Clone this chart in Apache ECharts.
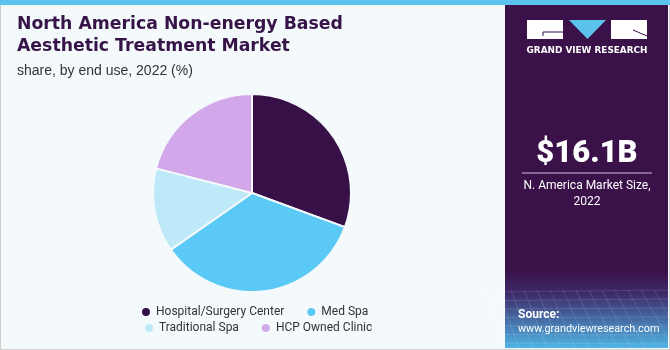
<!DOCTYPE html>
<html><head><meta charset="utf-8">
<script src="https://cdn.jsdelivr.net/npm/echarts@6/dist/echarts.min.js"></script>
<style>html,body{margin:0;padding:0;background:#f4f9fc}#c{width:670px;height:350px}</style>
</head><body><div id="c"></div>
<script>
const categories = ['Hospital/Surgery Center', 'Med Spa', 'Traditional Spa', 'HCP Owned Clinic'];
const shares = [30.6, 34.7, 13.7, 21.0];
const colors = ['#381048', '#5bc9f5', '#bde9f8', '#d3a8ea'];
const titleLines = ['North America Non-energy Based', 'Aesthetic Treatment Market'];
const subtitle = 'share, by end use, 2022 (%)';
const marketSize = '$16.1B';
const marketLabel = ['N. America Market Size,', '2022'];

const chart = echarts.init(document.getElementById('c'), null, {renderer: 'canvas'});
const data = categories.map((n, i) => ({name: n, value: shares[i], itemStyle: {color: colors[i]}}));

const mesh = [];
for (let i = 0; i < 14; i++) {
  mesh.push({type: 'line', shape: {x1: 505 + i * 13 - 20, y1: 290, x2: 505 + i * 14, y2: 348}, style: {stroke: 'rgba(255,255,255,0.12)', lineWidth: 1}, z: 3});
}
for (let j = 0; j < 7; j++) {
  mesh.push({type: 'line', shape: {x1: 505, y1: 292 + j * 8.5, x2: 668, y2: 290 + j * 9}, style: {stroke: 'rgba(255,255,255,0.12)', lineWidth: 1}, z: 3});
}
const legendText = {fontFamily: 'Roboto', fontSize: 12, color: '#333'};

chart.setOption({
  backgroundColor: '#f4f9fc',
  animation: false,
  legend: [{
    data: categories.slice(0, 2), top: 306, left: 140, itemGap: 21, padding: 0,
    icon: 'circle', itemWidth: 10, itemHeight: 10, textStyle: legendText
  }, {
    data: categories.slice(2), top: 322, left: 143, itemGap: 21, padding: 0,
    icon: 'circle', itemWidth: 10, itemHeight: 10, textStyle: legendText
  }],
  series: [{
    type: 'pie', center: [252, 193], radius: 99, startAngle: 90, clockwise: true,
    label: {show: false}, labelLine: {show: false},
    itemStyle: {borderColor: '#f4f9fc', borderWidth: 2},
    data: data
  }],
  graphic: [
    {type: 'rect', shape: {x: 0, y: 0, width: 670, height: 350}, style: {fill: 'none', stroke: '#cfcfcf', lineWidth: 2}, z: 1},
    {type: 'rect', shape: {x: 0, y: 0, width: 670, height: 5}, style: {fill: '#5bc3ee'}, z: 5},
    {type: 'rect', shape: {x: 505, y: 5, width: 163, height: 343}, style: {fill: '#3a1149'}, z: 2},
    {type: 'rect', shape: {x: 505, y: 270, width: 163, height: 78}, style: {fill: new echarts.graphic.LinearGradient(0, 0, 0, 1, [{offset: 0, color: '#3a1149'}, {offset: 0.3, color: '#3d2a6a'}, {offset: 1, color: '#4fb3e4'}])}, z: 2},
    ...mesh,
    {type: 'text', left: 17, top: 14, style: {text: titleLines.join('\n'), fontFamily: 'DejaVu Sans', fontWeight: 'bold', fontSize: 17.3, lineHeight: 22, fill: '#361447'}, z: 5},
    {type: 'text', left: 17, top: 64, style: {text: subtitle, fontFamily: 'Liberation Sans', fontSize: 14, fill: '#333'}, z: 5},
    {type: 'rect', shape: {x: 527, y: 20, width: 36, height: 19}, style: {fill: '#fff'}, z: 5},
    {type: 'polygon', shape: {points: [[569, 20], [606, 20], [587.5, 39]]}, style: {fill: '#5bc3ee'}, z: 5},
    {type: 'rect', shape: {x: 611, y: 20, width: 36, height: 19}, style: {fill: '#fff'}, z: 5},
    {type: 'line', shape: {x1: 543, y1: 32, x2: 563, y2: 32}, style: {stroke: '#3a1149', lineWidth: 1}, z: 6},
    {type: 'line', shape: {x1: 543, y1: 32, x2: 543, y2: 36}, style: {stroke: '#3a1149', lineWidth: 1}, z: 6},
    {type: 'line', shape: {x1: 633, y1: 30, x2: 647, y2: 36}, style: {stroke: '#3a1149', lineWidth: 1}, z: 6},
    {type: 'text', x: 587, y: 51, style: {text: 'GRAND VIEW RESEARCH', align: 'center', verticalAlign: 'middle', fontFamily: 'DejaVu Sans', fontWeight: 'bold', fontSize: 8.9, fill: '#fff'}, z: 5},
    {type: 'text', x: 587, y: 154, style: {text: marketSize, align: 'center', verticalAlign: 'middle', fontFamily: 'Roboto', fontWeight: 900, fontSize: 31, fill: '#fff'}, z: 5},
    {type: 'line', shape: {x1: 522, y1: 173, x2: 652, y2: 173}, style: {stroke: '#cfc3d6', lineWidth: 1}, z: 5},
    {type: 'text', x: 587, y: 194, style: {text: marketLabel.join('\n'), align: 'center', verticalAlign: 'middle', fontFamily: 'Roboto', fontSize: 12, lineHeight: 16, fill: '#fff'}, z: 5},
    {type: 'text', left: 518, top: 309, style: {text: 'Source:', fontFamily: 'Roboto', fontWeight: 'bold', fontSize: 12, fill: '#fff'}, z: 5},
    {type: 'text', left: 518, top: 324, style: {text: 'www.grandviewresearch.com', fontFamily: 'Roboto', fontSize: 10.8, fill: '#fff'}, z: 5}
  ]
});
</script></body></html>
